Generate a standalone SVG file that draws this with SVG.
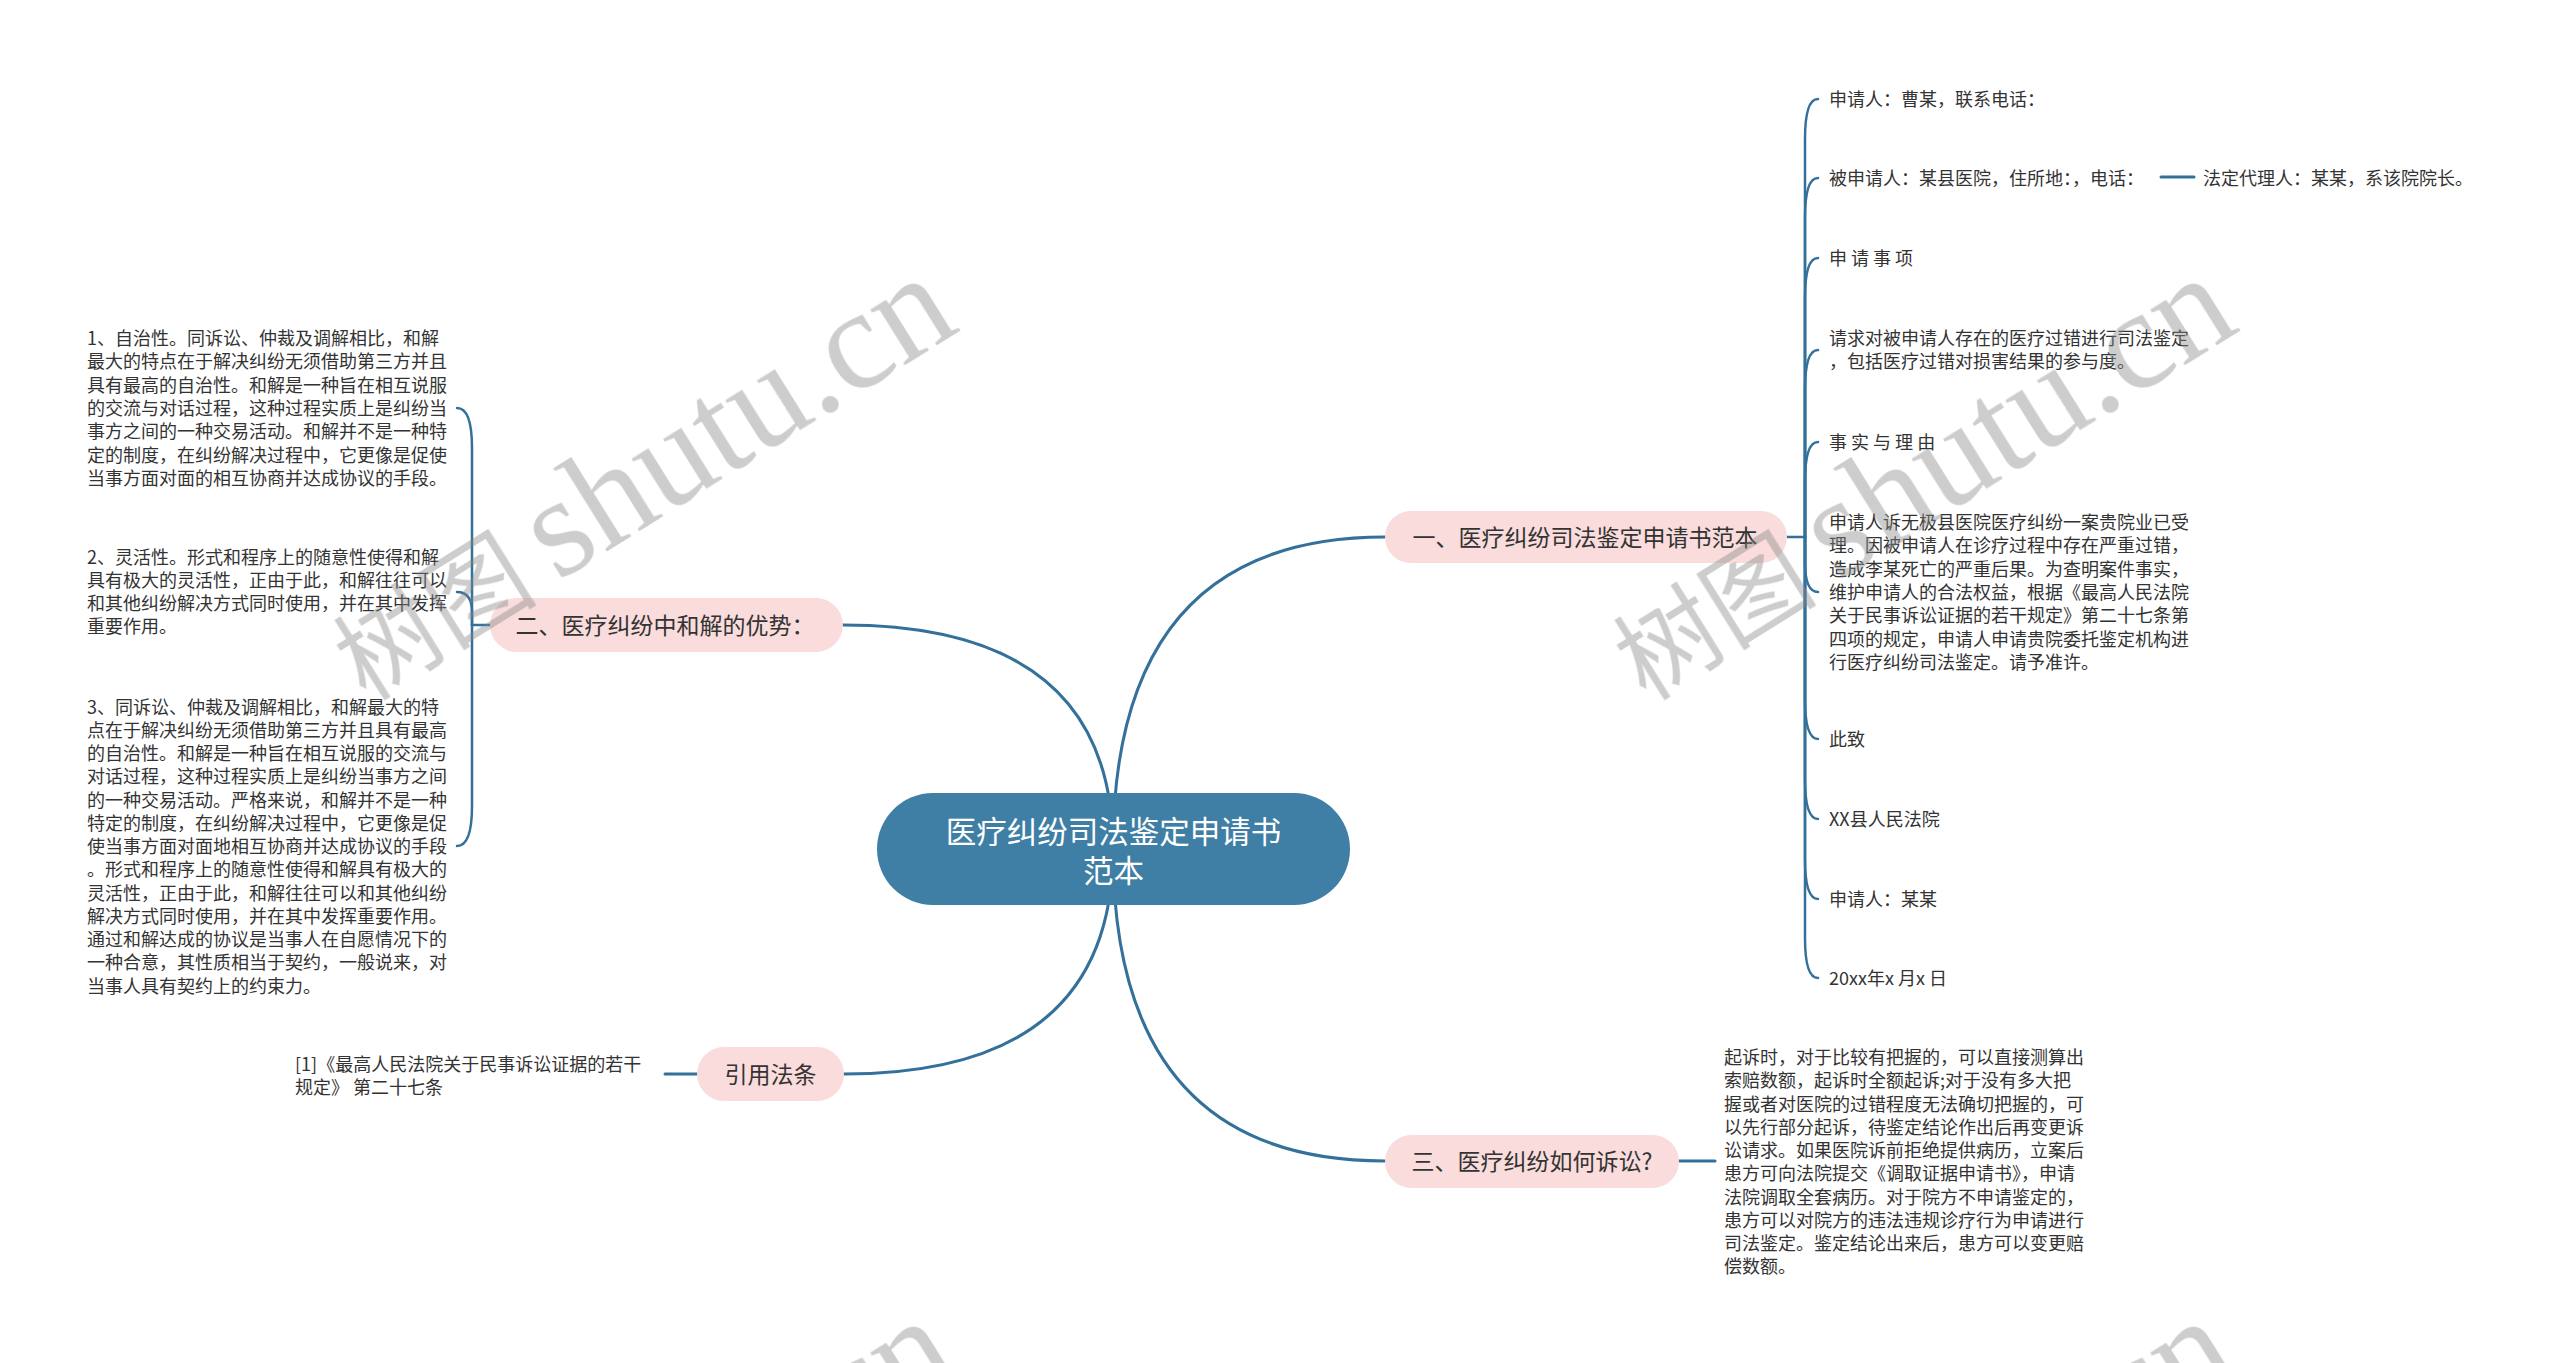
<svg xmlns="http://www.w3.org/2000/svg" width="2560" height="1363" viewBox="0 0 2560 1363">
<style>
.t{font-family:"Noto Sans CJK SC","Noto Sans",sans-serif;font-size:18px;fill:#333333}
.b{font-family:"Noto Sans CJK SC","Noto Sans",sans-serif;font-size:23px;fill:#333333;text-anchor:middle}
.c{font-family:"Noto Sans CJK SC","Noto Sans",sans-serif;font-size:30.5px;fill:#ffffff;text-anchor:middle}
.pill{fill:#f9dcdb}
.main{fill:none;stroke:#33709a;stroke-width:3;stroke-linecap:round}
.br{fill:none;stroke:#33709a;stroke-width:2.5;stroke-linecap:round}
.wm{fill:#888888;opacity:0.42}
.wmc{font-family:"Noto Sans CJK SC",sans-serif;font-size:102px}
.wml{font-family:"Liberation Serif",serif;font-size:142px}
</style>
<rect x="0" y="0" width="2560" height="1363" fill="#ffffff"/>
<g id="connectors">
  <path class="main" d="M1113,849 Q1113,625 843,625"/>
  <path class="main" d="M1113,849 Q1113,537 1385,537"/>
  <path class="main" d="M1113,849 Q1113,1074 844,1074"/>
  <path class="main" d="M1113,849 Q1113,1161 1385,1161"/>
  <path class="main" d="M697,1074 L665,1074"/>
  <path class="main" d="M1679,1161 L1715,1161"/>
  <path class="main" d="M2161,177 L2194,177"/>
  <path class="br" d="M490,625 L472,625"/>
  <path class="br" d="M472,625 L472,448 Q472,408 457,408"/>
  <path class="br" d="M472,625 L472,612 Q472,592 457,592"/>
  <path class="br" d="M472,625 L472,806 Q472,846 457,846"/>
  <path class="br" d="M1787,537 L1805,537"/>
  <path class="br" d="M1805,537 L1805,139 Q1805,99 1818,99"/>
  <path class="br" d="M1805,537 L1805,218 Q1805,178 1818,178"/>
  <path class="br" d="M1805,537 L1805,298 Q1805,258 1818,258"/>
  <path class="br" d="M1805,537 L1805,390 Q1805,350 1818,350"/>
  <path class="br" d="M1805,537 L1805,482 Q1805,442 1818,442"/>
  <path class="br" d="M1805,537 L1805,562 Q1805,592 1818,592"/>
  <path class="br" d="M1805,537 L1805,699 Q1805,739 1818,739"/>
  <path class="br" d="M1805,537 L1805,779 Q1805,819 1818,819"/>
  <path class="br" d="M1805,537 L1805,859 Q1805,899 1818,899"/>
  <path class="br" d="M1805,537 L1805,938 Q1805,978 1818,978"/>
</g>
<g id="root">
  <rect x="877" y="793" width="473" height="112" rx="56" fill="#3f7fa5"/>
  <text class="c" x="1113.5" y="843">医疗纠纷司法鉴定申请书</text>
  <text class="c" x="1113.5" y="882">范本</text>
</g>
<g id="b1">
  <rect class="pill" x="1385" y="511" width="402" height="52" rx="26"/>
  <text class="b" x="1585" y="546">一、医疗纠纷司法鉴定申请书范本</text>
</g>
<g id="b2">
  <rect class="pill" x="490" y="598" width="353" height="54" rx="27"/>
  <text class="b" x="665" y="634">二、医疗纠纷中和解的优势：</text>
</g>
<g id="b3">
  <rect class="pill" x="697" y="1047" width="147" height="54" rx="27"/>
  <text class="b" x="770.5" y="1083">引用法条</text>
</g>
<g id="b4">
  <rect class="pill" x="1385" y="1135" width="294" height="53" rx="26.5"/>
  <text class="b" x="1532" y="1170">三、医疗纠纷如何诉讼?</text>
</g>
<g id="b2-1">
  <text class="t" x="87" y="345">
    <tspan x="87">1、自治性。同诉讼、仲裁及调解相比，和解</tspan>
    <tspan x="87" dy="23.3">最大的特点在于解决纠纷无须借助第三方并且</tspan>
    <tspan x="87" dy="23.3">具有最高的自治性。和解是一种旨在相互说服</tspan>
    <tspan x="87" dy="23.3">的交流与对话过程，这种过程实质上是纠纷当</tspan>
    <tspan x="87" dy="23.3">事方之间的一种交易活动。和解并不是一种特</tspan>
    <tspan x="87" dy="23.3">定的制度，在纠纷解决过程中，它更像是促使</tspan>
    <tspan x="87" dy="23.3">当事方面对面的相互协商并达成协议的手段。</tspan>
  </text>
</g>
<g id="b2-2">
  <text class="t" x="87" y="563.5">
    <tspan x="87">2、灵活性。形式和程序上的随意性使得和解</tspan>
    <tspan x="87" dy="23.3">具有极大的灵活性，正由于此，和解往往可以</tspan>
    <tspan x="87" dy="23.3">和其他纠纷解决方式同时使用，并在其中发挥</tspan>
    <tspan x="87" dy="23.3">重要作用。</tspan>
  </text>
</g>
<g id="b2-3">
  <text class="t" x="87" y="713.5">
    <tspan x="87">3、同诉讼、仲裁及调解相比，和解最大的特</tspan>
    <tspan x="87" dy="23.25">点在于解决纠纷无须借助第三方并且具有最高</tspan>
    <tspan x="87" dy="23.25">的自治性。和解是一种旨在相互说服的交流与</tspan>
    <tspan x="87" dy="23.25">对话过程，这种过程实质上是纠纷当事方之间</tspan>
    <tspan x="87" dy="23.25">的一种交易活动。严格来说，和解并不是一种</tspan>
    <tspan x="87" dy="23.25">特定的制度，在纠纷解决过程中，它更像是促</tspan>
    <tspan x="87" dy="23.25">使当事方面对面地相互协商并达成协议的手段</tspan>
    <tspan x="87" dy="23.25">。形式和程序上的随意性使得和解具有极大的</tspan>
    <tspan x="87" dy="23.25">灵活性，正由于此，和解往往可以和其他纠纷</tspan>
    <tspan x="87" dy="23.25">解决方式同时使用，并在其中发挥重要作用。</tspan>
    <tspan x="87" dy="23.25">通过和解达成的协议是当事人在自愿情况下的</tspan>
    <tspan x="87" dy="23.25">一种合意，其性质相当于契约，一般说来，对</tspan>
    <tspan x="87" dy="23.25">当事人具有契约上的约束力。</tspan>
  </text>
</g>
<g id="b3-1">
  <text class="t" x="295" y="1071">
    <tspan x="295">[1]《最高人民法院关于民事诉讼证据的若干</tspan>
    <tspan x="295" dy="23">规定》 第二十七条</tspan>
  </text>
</g>
<g id="b1-1"><text class="t" x="1829" y="106">申请人：曹某，联系电话：</text></g>
<g id="b1-2"><text class="t" x="1829" y="185">被申请人：某县医院，住所地：，电话：</text></g>
<g id="b1-2-1"><text class="t" x="2203" y="185">法定代理人：某某，系该院院长。</text></g>
<g id="b1-3"><text class="t" x="1829" y="265">申 请 事 项</text></g>
<g id="b1-4">
  <text class="t" x="1829" y="345">
    <tspan x="1829">请求对被申请人存在的医疗过错进行司法鉴定</tspan>
    <tspan x="1829" dy="23.3">，包括医疗过错对损害结果的参与度。</tspan>
  </text>
</g>
<g id="b1-5"><text class="t" x="1829" y="449">事 实 与 理 由</text></g>
<g id="b1-6">
  <text class="t" x="1829" y="529">
    <tspan x="1829">申请人诉无极县医院医疗纠纷一案贵院业已受</tspan>
    <tspan x="1829" dy="23.3">理。因被申请人在诊疗过程中存在严重过错，</tspan>
    <tspan x="1829" dy="23.3">造成李某死亡的严重后果。为查明案件事实，</tspan>
    <tspan x="1829" dy="23.3">维护申请人的合法权益，根据《最高人民法院</tspan>
    <tspan x="1829" dy="23.3">关于民事诉讼证据的若干规定》第二十七条第</tspan>
    <tspan x="1829" dy="23.3">四项的规定，申请人申请贵院委托鉴定机构进</tspan>
    <tspan x="1829" dy="23.3">行医疗纠纷司法鉴定。请予准许。</tspan>
  </text>
</g>
<g id="b1-7"><text class="t" x="1829" y="746">此致</text></g>
<g id="b1-8"><text class="t" x="1829" y="826">XX县人民法院</text></g>
<g id="b1-9"><text class="t" x="1829" y="906">申请人：某某</text></g>
<g id="b1-10"><text class="t" x="1829" y="985">20xx年x 月x 日</text></g>
<g id="b4-1">
  <text class="t" x="1724" y="1064">
    <tspan x="1724">起诉时，对于比较有把握的，可以直接测算出</tspan>
    <tspan x="1724" dy="23.25">索赔数额，起诉时全额起诉;对于没有多大把</tspan>
    <tspan x="1724" dy="23.25">握或者对医院的过错程度无法确切把握的，可</tspan>
    <tspan x="1724" dy="23.25">以先行部分起诉，待鉴定结论作出后再变更诉</tspan>
    <tspan x="1724" dy="23.25">讼请求。如果医院诉前拒绝提供病历，立案后</tspan>
    <tspan x="1724" dy="23.25">患方可向法院提交《调取证据申请书》，申请</tspan>
    <tspan x="1724" dy="23.25">法院调取全套病历。对于院方不申请鉴定的，</tspan>
    <tspan x="1724" dy="23.25">患方可以对院方的违法违规诊疗行为申请进行</tspan>
    <tspan x="1724" dy="23.25">司法鉴定。鉴定结论出来后，患方可以变更赔</tspan>
    <tspan x="1724" dy="23.25">偿数额。</tspan>
  </text>
</g>
<g id="watermarks" class="wm">
  <text transform="translate(366,702) rotate(-32)"><tspan class="wmc">树图</tspan><tspan class="wml" dx="22">shutu.cn</tspan></text>
  <text transform="translate(1646,702) rotate(-32)"><tspan class="wmc">树图</tspan><tspan class="wml" dx="22">shutu.cn</tspan></text>
  <text transform="translate(366,1745) rotate(-32)"><tspan class="wmc">树图</tspan><tspan class="wml" dx="22">shutu.cn</tspan></text>
  <text transform="translate(1646,1745) rotate(-32)"><tspan class="wmc">树图</tspan><tspan class="wml" dx="22">shutu.cn</tspan></text>
</g>
</svg>
